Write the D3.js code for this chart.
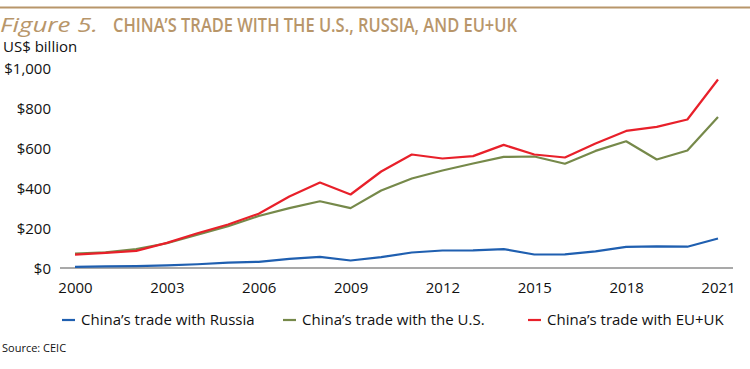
<!DOCTYPE html>
<html><head><meta charset="utf-8">
<script src="https://cdn.jsdelivr.net/npm/d3@7"></script>
<style>body{margin:0;background:#fff}svg{display:block}</style>
</head><body><div id="chart"></div>
<script>
const years = d3.range(2000, 2022);
const russia = [8, 10.7, 11.9, 15.8, 21.2, 29.1, 33.4, 48.2, 58, 40, 57, 80, 90, 91, 97, 70, 71, 86, 108, 111, 109, 150];
const usa = [74.5, 80.5, 97.2, 126.3, 169.6, 211.6, 262.7, 302.1, 336, 302, 390, 450, 490, 525, 558, 560, 524, 588, 636, 545, 590, 757];
const euuk = [69, 78, 88, 128, 176, 220, 274, 360, 430, 370, 485, 570, 550, 562, 618, 570, 555, 625, 688, 708, 745, 945];
const yTicks = [0, 200, 400, 600, 800, 1000];
const xTicks = [2000, 2003, 2006, 2009, 2012, 2015, 2018, 2021];
const seriesNames = ["China\u2019s trade with Russia", "China\u2019s trade with the U.S.", "China\u2019s trade with EU+UK"];
const seriesColors = ["#1f5fb0", "#76894a", "#e8202a"];
const seriesData = [russia, usa, euuk];

const W = 750, H = 369;
const svg = d3.select("#chart").append("svg").attr("width", W).attr("height", H);
const font = "'Open Sans', 'Noto Sans', sans-serif";

// top rule
svg.append("line").attr("x1", 0).attr("x2", W).attr("y1", 7.5).attr("y2", 7.5)
  .attr("stroke", "#b8966a").attr("stroke-width", 2);

// title
const title = svg.append("text").attr("x", 0).attr("y", 32).attr("fill", "#b8966a")
  .style("font-family", "'Open Sans', sans-serif").style("font-size", "20px");
title.append("tspan").style("font-style", "italic").text("Figure 5.")
  .attr("textLength", 98).attr("lengthAdjust", "spacingAndGlyphs");
title.append("tspan").attr("x", 113).style("font-weight", 600).text("CHINA\u2019S TRADE WITH THE U.S., RUSSIA, AND EU+UK")
  .attr("textLength", 404).attr("lengthAdjust", "spacingAndGlyphs");

svg.append("text").attr("x", 3).attr("y", 52).text("US$ billion")
  .style("font-family", font).style("font-size", "15px").attr("fill", "#111");

const x = d3.scaleLinear().domain([2000, 2021]).range([75, 718]);
const y = d3.scaleLinear().domain([0, 1000]).range([268.5, 68.5]);

// y labels
const yAxis = d3.axisLeft(y).tickValues(yTicks).tickSize(0)
  .tickFormat(d => "$" + d3.format(",")(d));
const gy = svg.append("g").attr("transform", "translate(51,0)").call(yAxis);
gy.select(".domain").remove();
gy.selectAll("text").style("font-family", font).style("font-size", "15px").attr("fill", "#111").attr("x", 0);

// x axis
const xAxis = d3.axisBottom(x).tickValues(xTicks).tickSize(0).tickFormat(d3.format("d"));
const gx = svg.append("g").attr("transform", "translate(0,268)").call(xAxis);
gx.select(".domain").remove();
gx.selectAll("text").style("font-family", font).style("font-size", "15px").attr("fill", "#111").attr("dy", "1.45em");
svg.append("line").attr("x1", 60).attr("x2", 733).attr("y1", 268).attr("y2", 268)
  .attr("stroke", "#555").attr("stroke-width", 1.2);

// lines
const line = d3.line().x((d, i) => x(years[i])).y(d => y(d));
seriesData.forEach((s, k) => {
  svg.append("path").datum(s).attr("d", line).attr("fill", "none")
    .attr("stroke", seriesColors[k]).attr("stroke-width", 2.2).attr("stroke-linejoin", "round");
});

// legend
const legX = [62, 283, 528];
seriesNames.forEach((n, k) => {
  svg.append("line").attr("x1", legX[k]).attr("x2", legX[k] + 13).attr("y1", 320).attr("y2", 320)
    .attr("stroke", seriesColors[k]).attr("stroke-width", 2.2);
  svg.append("text").attr("x", legX[k] + 19).attr("y", 325).text(n)
    .style("font-family", font).style("font-size", "15px").attr("fill", "#111");
});

svg.append("text").attr("x", 2).attr("y", 352).text("Source: CEIC")
  .style("font-family", font).style("font-size", "11px").attr("fill", "#111");
</script></body></html>
